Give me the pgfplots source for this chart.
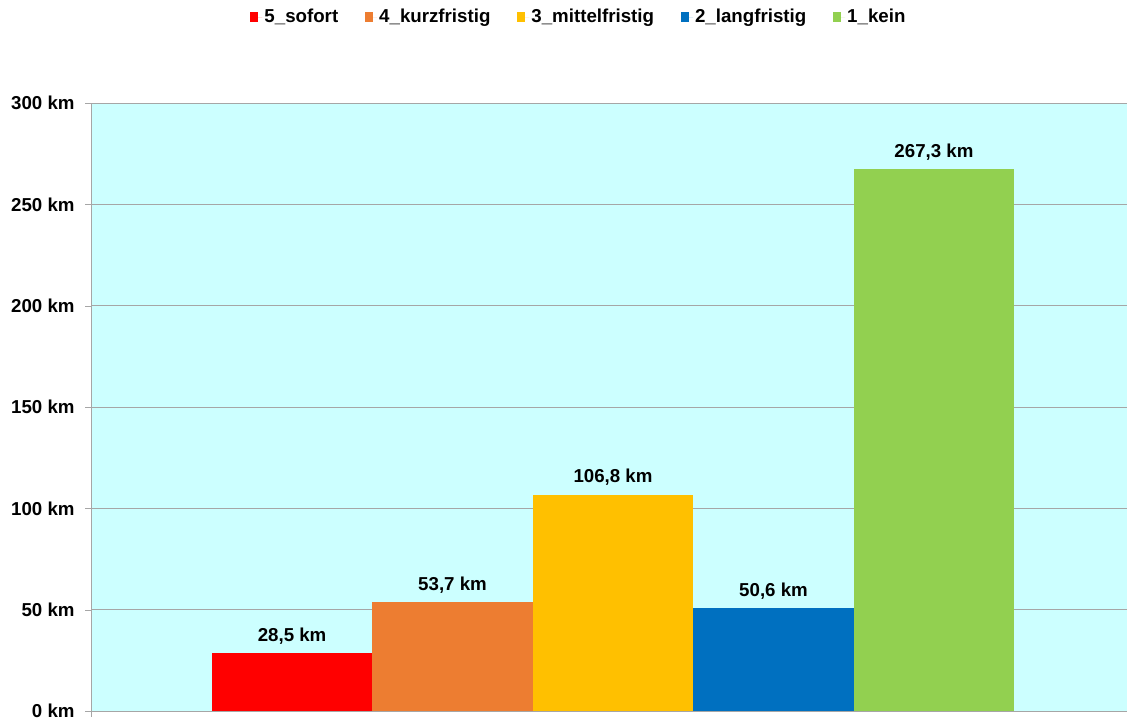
\documentclass[border=0pt]{standalone}
\usepackage{pgfplots}
\pgfplotsset{compat=1.18}
\usepackage{fontspec}
\setmainfont{Liberation Sans}
\definecolor{bg}{HTML}{CCFFFF}
\definecolor{axgray}{HTML}{A6A6A6}
\definecolor{c5}{HTML}{FF0000}
\definecolor{c4}{HTML}{ED7D31}
\definecolor{c3}{HTML}{FFC000}
\definecolor{c2}{HTML}{0070C0}
\definecolor{c1}{HTML}{92D050}
\begin{document}
\fontsize{18.7}{22}\selectfont\bfseries
\begin{tikzpicture}
\useasboundingbox (0,0) rectangle (1127pt,722pt);
\begin{axis}[
  at={(91pt,11pt)}, anchor=south west,
  scale only axis, width=1036pt, height=608pt,
  xmin=-1.253, xmax=5.203, ymin=0, ymax=300,
  axis lines*=left,
  axis line style={color=axgray},
  axis background/.style={fill=bg},
  ymajorgrids, grid style={color=axgray},
  /pgf/number format/assume math mode=true,
  ytick={0,50,...,300},
  yticklabel={\pgfmathprintnumber{\tick}~km},
  yticklabel style={xshift=-4pt},
  xtick={-1.253}, xticklabels={},
  tick align=outside, major tick length=6pt,
  tick style={color=axgray},
  ybar, bar width=1,
  nodes near coords={\pgfmathprintnumber[fixed,fixed zerofill,precision=1,use comma]{\pgfplotspointmeta}~km},
  every node near coord/.append style={anchor=base, yshift=12pt, black},
  legend columns=-1,
  legend style={at={(0.471,1.1414)}, anchor=center, draw=none, fill=none,
    /tikz/every even column/.append style={column sep=25pt}},
  legend image code/.code={\fill[#1] (0pt,-5pt) rectangle (8pt,5pt); \path (0pt,0pt) -- (12pt,0pt);},
]
\addplot[fill=c5, draw=none, bar shift=0pt] coordinates {(0,28.5)};
\addplot[fill=c4, draw=none, bar shift=0pt] coordinates {(1,53.7)};
\addplot[fill=c3, draw=none, bar shift=0pt] coordinates {(2,106.8)};
\addplot[fill=c2, draw=none, bar shift=0pt] coordinates {(3,50.6)};
\addplot[fill=c1, draw=none, bar shift=0pt] coordinates {(4,267.3)};
\legend{5\_sofort, 4\_kurzfristig, 3\_mittelfristig, 2\_langfristig, 1\_kein}
\end{axis}
\end{tikzpicture}
\end{document}
